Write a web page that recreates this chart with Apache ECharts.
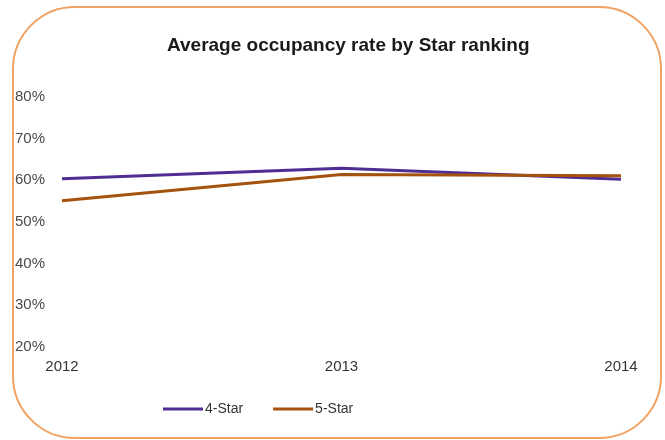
<!DOCTYPE html>
<html>
<head>
<meta charset="utf-8">
<title>Average occupancy rate by Star ranking</title>
<script src="https://cdn.jsdelivr.net/npm/echarts@6/dist/echarts.min.js"></script>
<style>
  html, body { margin: 0; padding: 0; background: #fff; }
  #chart { width: 665px; height: 440px; }
</style>
</head>
<body>
<div id="chart"></div>
<script>
// Occupancy rate (%) per year for each hotel class
const years = ['2012', '2013', '2014'];
const fourStar = [60.3, 62.8, 60.2];
const fiveStar = [55.0, 61.3, 61.0];
const yTicks = [20, 30, 40, 50, 60, 70, 80];

const chart = echarts.init(document.getElementById('chart'));

chart.setOption({
  backgroundColor: '#ffffff',
  animation: false,
  textStyle: { fontFamily: 'Liberation Sans, Arial, sans-serif' },
  graphic: [{
    type: 'rect',
    shape: { x: 13, y: 7, width: 648, height: 431, r: 62 },
    style: { fill: 'none', stroke: '#f0a262', lineWidth: 2 },
    z: -1
  }],
  title: {
    text: 'Average occupancy rate by Star ranking',
    left: 162,
    top: 31,
    textStyle: { fontSize: 19, fontWeight: 'bold', color: '#1a1a1a', fontFamily: 'Liberation Sans, Arial, sans-serif' }
  },
  legend: {
    bottom: 19,
    left: 158,
    itemWidth: 40,
    itemHeight: 3,
    itemGap: 30,
    icon: 'rect',
    textStyle: { fontSize: 14, color: '#333', padding: [0, 0, 0, -3] },
    data: ['4-Star', '5-Star']
  },
  grid: { left: 62, right: 44, top: 96.7, bottom: 93.3, containLabel: false },
  xAxis: {
    type: 'category',
    data: years,
    boundaryGap: false,
    axisLine: { show: false },
    axisTick: { show: false },
    axisLabel: { margin: 13, fontSize: 15, color: '#333' }
  },
  yAxis: {
    type: 'value',
    min: yTicks[0],
    max: yTicks[yTicks.length - 1],
    interval: 10,
    splitLine: { show: false },
    axisLine: { show: false },
    axisTick: { show: false },
    axisLabel: {
      margin: 47,
      align: 'left',
      fontSize: 15,
      color: '#4a4a4a',
      formatter: v => v + '%'
    }
  },
  series: [
    {
      name: '4-Star',
      type: 'line',
      data: fourStar,
      symbol: 'none',
      lineStyle: { width: 3, color: '#4f2d92' },
      itemStyle: { color: '#4f2d92' }
    },
    {
      name: '5-Star',
      type: 'line',
      data: fiveStar,
      symbol: 'none',
      lineStyle: { width: 3, color: '#a5520f' },
      itemStyle: { color: '#a5520f' }
    }
  ]
});
</script>
</body>
</html>
